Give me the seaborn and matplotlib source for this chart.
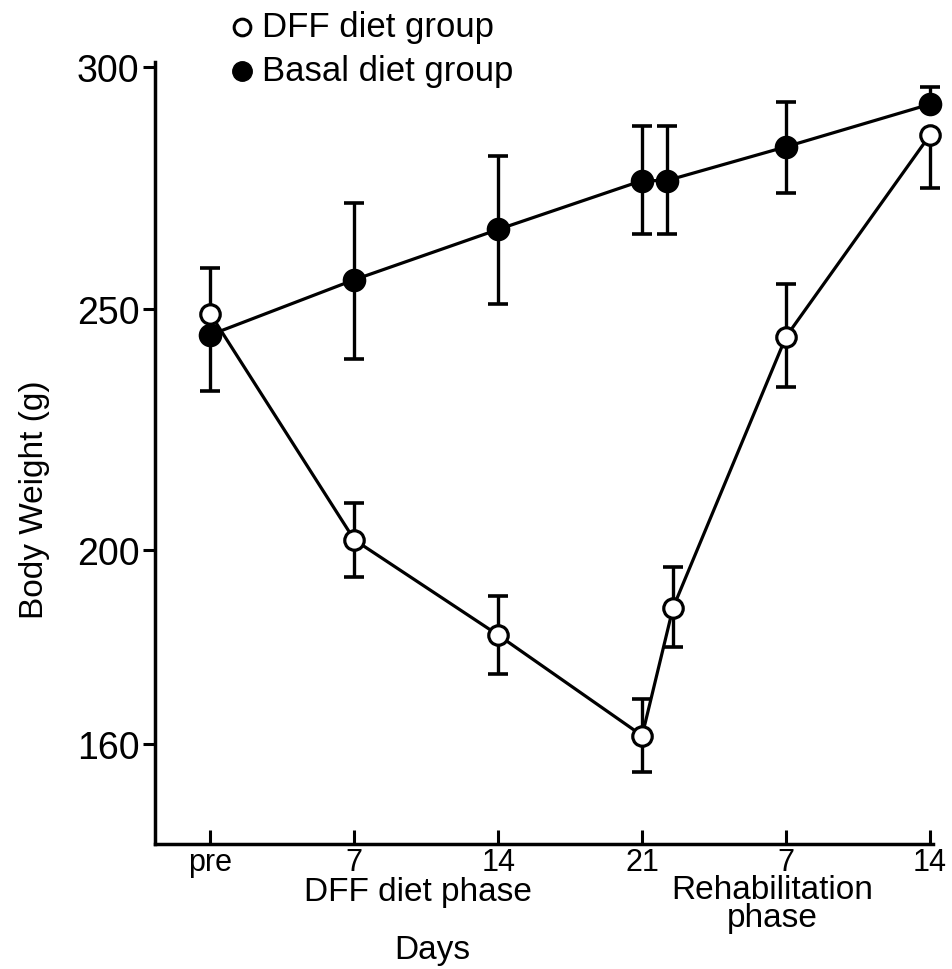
import matplotlib
matplotlib.use("Agg")
import matplotlib.pyplot as plt
import seaborn as sns
import pandas as pd
import numpy as np

# ---- data ----
dff_days = [0, 7, 14, 21, 22.5, 28, 35]
dff_weight = [248.9, 202.2, 182.5, 161.7, 188.1, 244.2, 285.9]
dff_err_low = [0, 7.6, 8.0, 7.5, 8.0, 10.3, 11.0]
dff_err_high = [9.5, 7.6, 8.0, 7.6, 8.4, 11.0, 0]

basal_days = [0, 7, 14, 21, 22.2, 28, 35]
basal_weight = [244.6, 256.0, 266.4, 276.5, 276.5, 283.5, 292.3]
basal_err_low = [11.7, 16.5, 15.4, 11.0, 11.0, 9.6, 0]
basal_err_high = [0, 15.8, 15.1, 11.3, 11.3, 9.3, 3.6]

x_ticks = [0, 7, 14, 21, 28, 35]
x_ticklabels = ["pre", "7", "14", "21", "7", "14"]
y_ticks = [160, 200, 250, 300]
legend_labels = ["DFF diet group", "Basal diet group"]

sns.set_theme(style="ticks")
plt.rcParams['font.family'] = ['Liberation Sans', 'DejaVu Sans']
plt.rcParams['text.color'] = 'black'
plt.rcParams['axes.labelcolor'] = 'black'

df = pd.concat([
    pd.DataFrame({"day": dff_days, "weight": dff_weight, "group": legend_labels[0]}),
    pd.DataFrame({"day": basal_days, "weight": basal_weight, "group": legend_labels[1]}),
])

fig = plt.figure(figsize=(9.53, 9.70), dpi=100)
ax = fig.add_axes([0.1626, 0.1289, 0.8164, 0.806])

# lines
sns.lineplot(data=df[df.group == legend_labels[0]], x="day", y="weight", sort=False,
             color="black", lw=2.3, ax=ax, legend=False, zorder=2)
sns.lineplot(data=df[df.group == legend_labels[1]], x="day", y="weight", sort=False,
             color="black", lw=2.3, ax=ax, legend=False, zorder=2)

# error bars
ax.errorbar(dff_days, dff_weight, yerr=[dff_err_low, dff_err_high], fmt="none",
            ecolor="black", elinewidth=2.4, capsize=7, capthick=2.6, zorder=3, clip_on=False)
ax.errorbar(basal_days, basal_weight, yerr=[basal_err_low, basal_err_high], fmt="none",
            ecolor="black", elinewidth=2.4, capsize=7, capthick=2.6, zorder=3, clip_on=False)

# markers
ax.plot(dff_days, dff_weight, ls="none", marker="o", ms=14, mfc="white", mec="black",
        mew=2.3, zorder=5, clip_on=False)
ax.plot(basal_days, basal_weight, ls="none", marker="o", ms=15.5, mfc="black", mec="black",
        mew=1.5, zorder=4, clip_on=False)

ax.set_xlim(-2.7, 35.15)
ax.set_ylim(139.3, 301.0)
ax.set_xticks(x_ticks)
ax.set_xticklabels(x_ticklabels)
ax.set_yticks(y_ticks)
ax.set_xlabel("")
ax.set_ylabel("Body Weight (g)", fontsize=24)
ax.yaxis.set_label_coords(-0.135, 0.441)

for s in ["top", "right"]:
    ax.spines[s].set_visible(False)
for s in ["left", "bottom"]:
    ax.spines[s].set_linewidth(2.5)
    ax.spines[s].set_color("black")

ax.tick_params(axis="y", direction="out", length=9, width=2.2, labelsize=27, pad=2, colors="black")
ax.tick_params(axis="x", direction="in", length=10, width=2.2, labelsize=22, pad=2, colors="black")

# legend (drawn manually in figure coordinates)
ax.plot([242 / 953], [1 - 28 / 970], transform=fig.transFigure, ls="none", marker="o",
        ms=12, mfc="white", mec="black", mew=2.2, clip_on=False)
ax.plot([242 / 953], [1 - 72 / 970], transform=fig.transFigure, ls="none", marker="o",
        ms=14, mfc="black", mec="black", clip_on=False)
fig.text(262 / 953, 1 - 28 / 970, legend_labels[0], ha="left", va="center", fontsize=25)
fig.text(262 / 953, 1 - 72 / 970, legend_labels[1], ha="left", va="center", fontsize=25)

# phase labels
fig.text(418 / 953, 1 - 893 / 970, "DFF diet phase", ha="center", va="center", fontsize=24)
fig.text(772 / 953, 1 - 891 / 970, "Rehabilitation", ha="center", va="center", fontsize=24)
fig.text(772 / 953, 1 - 919 / 970, "phase", ha="center", va="center", fontsize=24)
fig.text(432 / 953, 1 - 951 / 970, "Days", ha="center", va="center", fontsize=24)

fig.savefig("out.png", dpi=100, facecolor="white")
